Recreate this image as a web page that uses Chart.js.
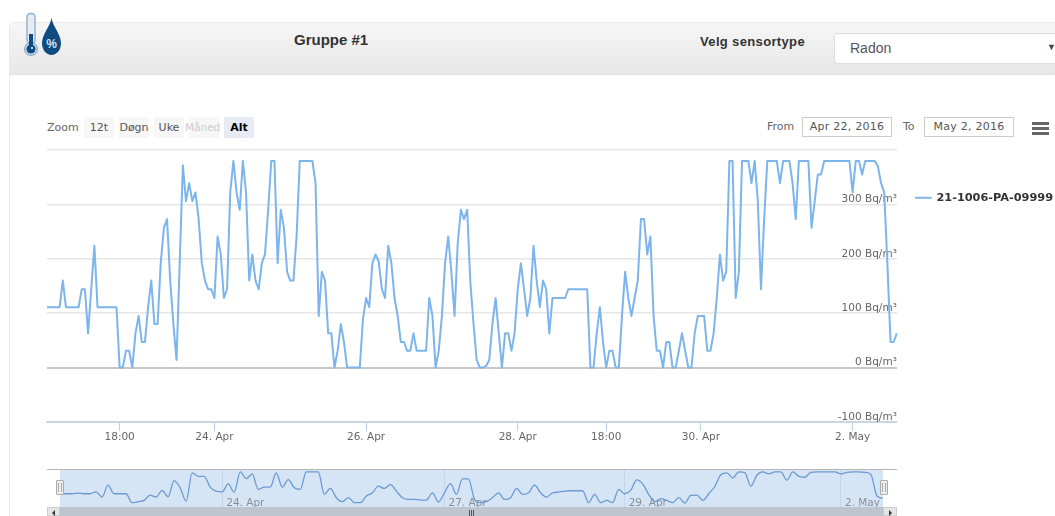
<!DOCTYPE html>
<html>
<head>
<meta charset="utf-8">
<script src="https://cdn.jsdelivr.net/npm/chart.js@4/dist/chart.umd.js"></script>
<style>
html,body{margin:0;padding:0;width:1055px;height:516px;overflow:hidden;background:#fff;font-family:"Liberation Sans",sans-serif}
.abs{position:absolute;white-space:nowrap}
#panel{left:9px;top:22px;width:1060px;height:600px;border:1px solid #e9e9e9;border-radius:4px 0 0 0;box-sizing:border-box}
#head{left:10px;top:23px;width:1045px;height:51px;background:linear-gradient(#f6f6f6,#e7e7e7);border-bottom:1px solid #e0e0e0}
.dv{font-family:"DejaVu Sans",sans-serif;font-size:11px;color:#666}
.btn{top:117px;height:21px;width:30px;background:#f7f7f7;text-align:center;line-height:21px;color:#555}
.box{top:117px;height:20px;width:90px;box-sizing:border-box;border:1px solid #ccc;text-align:center;line-height:18px;color:#555;background:#fff;letter-spacing:.25px}
.bar{left:1032px;width:17px;height:3px;background:#666}
#main{position:absolute;left:0;top:0}
#navWrap{position:absolute;left:60px;top:470px;width:823px;height:37px;background:#d6e5f6}
.handle{top:480px;width:8px;height:15px;box-sizing:border-box;background:#eee;border:1px solid #aaa;border-radius:1px;color:#999;font:9px/12px "DejaVu Sans";text-align:center}
</style>
</head>
<body>
<div class="abs" id="panel"></div>
<div class="abs" id="head"></div>
<svg class="abs" style="left:20px;top:10px" width="45" height="48" viewBox="0 0 45 48">
  <rect x="7" y="3.5" width="8" height="30" rx="3.5" fill="#e4edf4" stroke="#8fb0cc" stroke-width="1.4"/>
  <circle cx="11" cy="39" r="6.3" fill="#e4edf4" stroke="#8fb0cc" stroke-width="1.4"/>
  <rect x="9" y="24" width="4" height="12" fill="#0f4c81"/>
  <circle cx="11" cy="39" r="4.6" fill="#0f4c81"/>
  <circle cx="12" cy="38" r="1" fill="#fff"/>
  <path d="M31.5 8 C33 17 41 24 41 33.5 C41 40 36.5 45 31.5 45 C26.5 45 22 40 22 33.5 C22 24 30 17 31.5 8 Z" fill="#0f4c81"/>
  <text x="31.5" y="37.5" text-anchor="middle" font-family="Liberation Sans" font-weight="bold" font-size="12" fill="#d5e4f2">%</text>
</svg>
<div class="abs" style="left:294px;top:31px;font-size:15px;font-weight:bold;color:#333">Gruppe #1</div>
<div class="abs" style="left:700px;top:34px;font-size:13px;font-weight:bold;color:#333;letter-spacing:.35px">Velg sensortype</div>
<div class="abs" style="left:834px;top:33px;width:240px;height:31px;box-sizing:border-box;background:#fff;border:1px solid #ddd;border-radius:4px"></div>
<div class="abs" style="left:850px;top:40px;font-size:14px;color:#555">Radon</div>
<div class="abs" style="left:1047px;top:42px;font-size:9px;color:#444">▼</div>

<div class="abs dv" style="left:47px;top:121px">Zoom</div>
<div class="abs dv btn" style="left:84px">12t</div>
<div class="abs dv btn" style="left:119px">Døgn</div>
<div class="abs dv btn" style="left:154px">Uke</div>
<div class="abs dv btn" style="left:189px;color:#ccc;font-size:10.5px;text-indent:-4px">Måned</div>
<div class="abs dv btn" style="left:224px;background:#e6ebf5;color:#000;font-weight:bold">Alt</div>
<div class="abs dv" style="left:767px;top:120px">From</div>
<div class="abs dv box" style="left:802px">Apr 22, 2016</div>
<div class="abs dv" style="left:903px;top:120px">To</div>
<div class="abs dv box" style="left:924px">May 2, 2016</div>
<div class="abs bar" style="top:122px"></div>
<div class="abs bar" style="top:127px"></div>
<div class="abs bar" style="top:132px"></div>

<canvas id="main" width="1100" height="460" style="width:1100px;height:460px"></canvas>

<div class="abs" style="left:47px;top:469px;width:850px;height:1px;background:#b5b5b5"></div>
<div id="navWrap"><canvas id="nav" width="823" height="37" style="display:block;width:823px;height:37px"></canvas></div>
<div class="abs" style="left:47px;top:507px;width:850px;height:9px;background:#f0f0f0"></div>
<div class="abs" style="left:60px;top:507px;width:823px;height:9px;background:#bfc5ce"></div>
<div class="abs" style="left:47px;top:507px;width:13px;height:9px;background:#e6e6e6;border:1px solid #ccc;box-sizing:border-box"></div>
<div class="abs" style="left:883px;top:507px;width:14px;height:9px;background:#e6e6e6;border:1px solid #ccc;box-sizing:border-box"></div>
<div class="abs" style="left:52px;top:510px;width:0;height:0;border:3px solid transparent;border-right-color:#333;border-left-width:0"></div>
<div class="abs" style="left:889px;top:510px;width:0;height:0;border:3px solid transparent;border-left-color:#333;border-right-width:0"></div>
<div class="abs" style="left:469px;top:510px;width:1px;height:6px;background:#555;box-shadow:2px 0 #555,4px 0 #555"></div>
<div class="abs handle" style="left:56px">||</div>
<div class="abs handle" style="left:880px">||</div>

<script>
const seriesName = '21-1006-PA-09999';
const radonValues = [
  111,111,111,111,111,160,111,111,111,111,111,144,144,63,144,224,111,111,111,111,111,111,111,
  0,0,31,31,0,63,95,47,47,111,160,80,80,192,257,273,160,80,14,192,372,306,339,306,322,273,192,
  160,144,144,128,241,208,128,144,322,380,322,290,380,322,160,208,160,144,192,208,290,380,380,
  192,290,257,176,160,160,241,380,380,380,380,380,339,95,176,160,
  63,63,0,31,80,47,0,0,0,0,0,88,128,111,192,208,195,144,128,224,192,128,95,47,47,31,31,63,31,31,31,31,
  128,95,0,31,95,192,241,176,95,228,290,273,290,157,81,14,0,0,3,14,81,128,63,0,63,63,31,63,144,192,144,
  95,128,224,160,111,160,144,63,128,128,128,128,128,144,144,144,144,144,144,144,0,0,63,111,47,0,31,31,0,0,
  95,176,128,95,128,160,273,273,208,241,95,31,31,0,47,47,0,0,31,63,31,0,0,63,95,95,95,31,31,63,128,208,160,176,
  380,380,128,176,380,380,380,339,380,306,144,273,380,380,380,380,339,380,380,380,339,273,380,380,380,380,
  257,306,355,355,380,380,380,380,380,380,380,380,380,322,380,380,355,380,380,380,380,370,339,322,192,47,47,63
];
const navigatorValues = [
  113,113,113,121,113,113,137,73,218,113,113,113,4,16,32,97,73,154,77,275,186,24,368,327,327,194,145,137,234,133,
  380,299,356,166,194,194,368,194,287,186,166,380,380,380,105,178,65,16,
  65,4,4,85,125,206,178,226,145,65,44,44,36,36,125,12,125,238,105,295,295,44,4,16,65,125,44,65,178,105,125,218,
  125,73,125,133,145,150,150,150,4,105,4,32,4,166,113,
  154,283,234,105,16,53,32,4,65,0,93,97,32,113,202,347,368,307,380,372,206,340,380,356,380,380,279,380,327,315,
  376,380,380,380,380,356,376,380,380,376,348,85,57
];
const mainTickIndex = [23, 53, 101, 149, 177, 207, 255];
const mainTickLabel = ['18:00', '24. Apr', '26. Apr', '28. Apr', '18:00', '30. Apr', '2. May'];
const navTickIndex = [27, 64, 94, 130];
const navTickLabel = ['24. Apr', '27. Apr', '29. Apr', '2. May'];
const yMin = -100, yMax = 400, yStep = 100, yUnit = ' Bq/m³';

const labelFor = (idx, labels, index) => { const p = index.indexOf(idx); return p < 0 ? '' : labels[p]; };

// Moves the legend below the top of the plot, where the reference has it.
const legendPlacement = { id: 'legendPlacement', afterLayout(c) { c.legend.top = 173; } };

new Chart(document.getElementById('main'), {
  type: 'line',
  data: { labels: radonValues.map((_, i) => i), datasets: [{
    label: seriesName, data: radonValues,
    borderColor: '#7cb5ec', backgroundColor: '#7cb5ec', borderWidth: 2,
    pointRadius: 0, tension: 0, borderJoinStyle: 'round', clip: false
  }]},
  options: {
    responsive: false, animation: false, events: [],
    layout: { padding: { left: 47, top: 150, right: 37, bottom: 0 } },
    plugins: {
      tooltip: { enabled: false },
      legend: { position: 'right', align: 'start',
        labels: { boxWidth: 15, boxHeight: 0, padding: 19, color: '#333',
          font: { family: '"DejaVu Sans"', size: 11.3, weight: 'bold' } } }
    },
    scales: {
      x: {
        type: 'category', offset: false,
        afterBuildTicks(s) { s.ticks = s.ticks.filter(t => mainTickIndex.includes(t.value)); },
        afterFit(s) { s.height = 38; },
        grid: { drawOnChartArea: false, drawTicks: true, tickLength: 9, tickColor: '#c0d0e0' },
        border: { color: '#c8d6e4', width: 2 },
        ticks: { autoSkip: false, maxRotation: 0, minRotation: 0, padding: 0, color: '#666',
          font: { family: '"DejaVu Sans"', size: 10.5 },
          callback(v) { return labelFor(v, mainTickLabel, mainTickIndex); } }
      },
      y: {
        position: 'right', min: yMin, max: yMax,
        afterFit(s) { s.width = 0; },
        grid: { drawTicks: false, lineWidth: c => c.tick.value === 0 ? 2 : 1.5,
          color: c => c.tick.value === 0 ? '#c8c8c8' : '#e6e6e6' },
        border: { display: false },
        ticks: { stepSize: yStep, mirror: true, padding: 0, labelOffset: -5, color: '#666',
          font: { family: '"DejaVu Sans"', size: 10.5 },
          callback(v) { return v === yMax ? '' : v + yUnit; } }
      }
    }
  },
  plugins: [legendPlacement]
});

new Chart(document.getElementById('nav'), {
  type: 'line',
  data: { labels: navigatorValues.map((_, i) => i), datasets: [{
    data: navigatorValues, borderColor: '#6c99d0', borderWidth: 1.3,
    pointRadius: 0, cubicInterpolationMode: 'monotone', fill: false
  }]},
  options: {
    responsive: false, animation: false, events: [],
    layout: { padding: 0 },
    plugins: { legend: { display: false }, tooltip: { enabled: false } },
    scales: {
      x: {
        type: 'category', offset: false,
        afterBuildTicks(s) { s.ticks = s.ticks.filter(t => navTickIndex.includes(t.value)); },
        afterFit(s) { s.height = 0; },
        grid: { drawTicks: false, color: '#c3d5ea' },
        border: { display: false },
        ticks: { autoSkip: false, maxRotation: 0, minRotation: 0, align: 'start', mirror: true, padding: -3, labelOffset: 4,
          color: '#8a8f96', font: { family: '"DejaVu Sans"', size: 10.5 },
          callback(v) { return labelFor(v, navTickLabel, navTickIndex); } }
      },
      y: { display: false, min: -49, max: 404 }
    }
  }
});
</script>
</body>
</html>
